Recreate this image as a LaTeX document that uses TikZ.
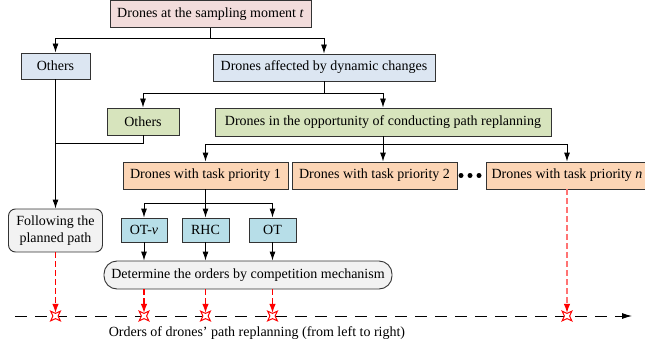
\documentclass[tikz,border=0pt]{standalone}
\usepackage{fontspec}
\setmainfont{Liberation Serif}
\usepackage{xcolor}
\usepackage{tikz}
\usetikzlibrary{arrows.meta,positioning,shapes.geometric}

\definecolor{pinkbox}{HTML}{F2DCDB}
\definecolor{greybluebox}{HTML}{DCE6F2}
\definecolor{greenbox}{HTML}{D7E4BD}
\definecolor{peachbox}{HTML}{FCD5B5}
\definecolor{cyanbox}{HTML}{B7DEE8}
\definecolor{greybox}{HTML}{F2F2F2}

\begin{document}
\begin{tikzpicture}[
    x=1pt, y=-1pt,
    font=\fontsize{14}{17}\selectfont,
    box/.style={draw=black!80, line width=0.9pt, rectangle, inner sep=0pt, align=center},
    roundbox/.style={box, rounded corners=7pt, fill=greybox},
    arr/.style={draw, line width=0.9pt, -{Latex[length=9pt,width=6pt]}},
    link/.style={draw, line width=0.9pt},
    order/.style={draw=red, line width=1.1pt, dashed, dash pattern=on 6pt off 3pt,
                  -{Latex[length=9pt,width=6.5pt,color=red]}},
    axis/.style={draw, line width=0.9pt, dash pattern=on 12pt off 8pt,
                 -{Latex[length=10pt,width=6pt]}},
    mark4/.style={star, star points=4, star point ratio=0.38, minimum size=5.2pt,
                  inner sep=0pt, draw=red, line width=1pt, fill=white},
    dotc/.style={circle, fill=black, inner sep=0pt, minimum size=5pt}
]
\useasboundingbox (0,0) rectangle (645,350);

% Level 1
\node[box, fill=pinkbox, minimum width=201pt, minimum height=27pt] (top) at (210.5,13.8) {Drones at the sampling moment \textit{t}};

% Level 2
\node[box, fill=greybluebox, minimum width=69pt, minimum height=26pt] (others1) at (55.5,66) {Others};
\node[box, fill=greybluebox, minimum width=222pt, minimum height=27pt] (affected) at (324,67.5) {Drones affected by dynamic changes};

% Level 3
\node[box, fill=greenbox, minimum width=72pt, minimum height=27pt] (others2) at (143,121.5) {Others};
\node[box, fill=greenbox, minimum width=336pt, minimum height=28pt] (opp) at (383,122) {Drones in the opportunity of conducting path replanning};

% Task priorities
\node[box, fill=peachbox, minimum width=165pt, minimum height=27pt] (p1) at (205.5,175.5) {Drones with task priority 1};
\node[box, fill=peachbox, minimum width=165pt, minimum height=27pt] (p2) at (374.5,175.5) {Drones with task priority 2};
\node[box, fill=peachbox, minimum width=162pt, minimum height=27pt] (pn) at (567,175.5) {Drones with task priority \textit{n}};
\foreach \i/\xx in {1/461,2/470,3/479}
  \node[dotc] (dot\i) at (\xx,175.5) {};

% Methods
\node[box, fill=cyanbox, minimum width=46pt, minimum height=24pt] (otv) at (144,230) {OT-\textit{v}};
\node[box, fill=cyanbox, minimum width=47pt, minimum height=24pt] (rhc) at (205.5,230) {RHC};
\node[box, fill=cyanbox, minimum width=47pt, minimum height=24pt] (ot) at (272.5,230) {OT};

\node[roundbox, minimum width=94pt, minimum height=43pt] (follow) at (55.5,230.5) {Following the\\planned path};
\node[roundbox, rounded corners=13pt, minimum width=288pt, minimum height=28pt] (determ) at (248,275) {Determine the orders by competition mechanism};

% Tree connectors
\draw[arr] (top.south) -- ++(0,11) -| (others1.north);
\draw[arr] (top.south) -- ++(0,11) -| (affected.north);
\draw[arr] (affected.south) -- ++(0,12) -| (others2.north);
\draw[arr] (affected.south) -- ++(0,12) -| (opp.north);
\draw[arr] (others1.south) -- (follow.north);
\coordinate (join) at (55.5,143);
\draw[link] (others2.south) |- (join);
\draw[arr] (opp.south) -- ++(0,8) -| (p1.north);
\draw[arr] (opp.south) -- (opp.south |- p2.north);
\draw[arr] (opp.south) -- ++(0,8) -| (pn.north);
\draw[arr] (p1.south) -- ++(0,14) -| (otv.north);
\draw[arr] (p1.south) -- (rhc.north);
\draw[arr] (p1.south) -- ++(0,14) -| (ot.north);
\foreach \m in {otv,rhc,ot}
  \draw[arr] (\m.south) -- (\m.south |- determ.north);

% Orders axis
\coordinate (ax0) at (15,316);
\coordinate (ax1) at (632,316);
\draw[axis] (ax0) -- (ax1);
\node[mark4] (s1) at (55.5,316) {};
\node[mark4] (s2) at (144,316) {};
\node[mark4] (s3) at (205.5,316) {};
\node[mark4] (s4) at (272.5,316) {};
\node[mark4] (s5) at (567,316) {};

\draw[order] (follow.south) -- (s1.north);
\draw[order] (otv |- determ.south) -- (s2.north);
\draw[order] (rhc |- determ.south) -- (s3.north);
\draw[order] (ot |- determ.south) -- (s4.north);
\draw[order, draw=red!55] (pn.south) -- (s5.north);

\node (axlabel) at (257,333) {Orders of drones’ path replanning (from left to right)};

\end{tikzpicture}
\end{document}
